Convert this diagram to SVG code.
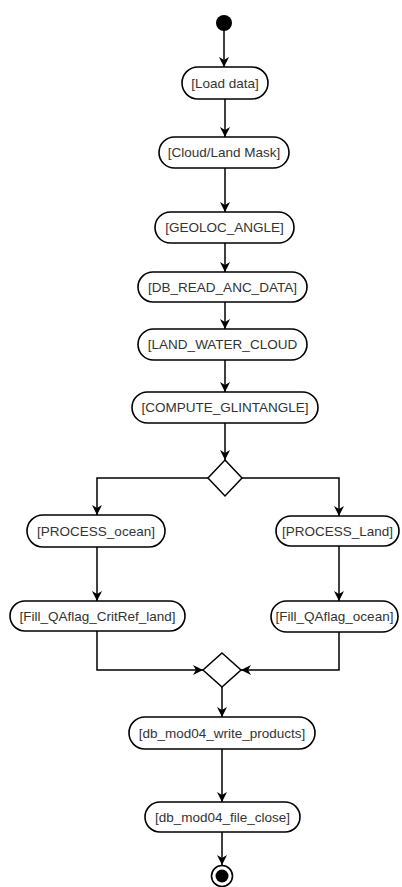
<svg xmlns="http://www.w3.org/2000/svg" width="402" height="887" viewBox="0 0 402 887">
<style>
.act{fill:#fff;stroke:#000;stroke-width:1.6}
.lbl{font-family:"Liberation Sans",Arial,sans-serif;font-size:13.5px;fill:#333;text-anchor:middle;dominant-baseline:central}
.con{fill:none;stroke:#000;stroke-width:1.5}
.dec{fill:#fff;stroke:#000;stroke-width:1.5}
</style>
<defs>
<marker id="arr" viewBox="0 0 10 10" refX="10" refY="5" markerWidth="10" markerHeight="10" markerUnits="userSpaceOnUse" orient="auto">
<path d="M0,0 L10,5 L0,10 L3,5 Z" fill="#000"/>
</marker>
</defs>
<rect width="402" height="887" fill="#fff"/>
<g id="connectors">
<path class="con" d="M224,31 V67" marker-end="url(#arr)"/>
<path class="con" d="M225,99 V137" marker-end="url(#arr)"/>
<path class="con" d="M225,168 V212" marker-end="url(#arr)"/>
<path class="con" d="M225,243 V272" marker-end="url(#arr)"/>
<path class="con" d="M225,302 V329" marker-end="url(#arr)"/>
<path class="con" d="M225,360 V392" marker-end="url(#arr)"/>
<path class="con" d="M225,423 V460" marker-end="url(#arr)"/>
<path class="con" d="M208,478 H97 V515" marker-end="url(#arr)"/>
<path class="con" d="M242,478 H339 V516" marker-end="url(#arr)"/>
<path class="con" d="M97,547 V601" marker-end="url(#arr)"/>
<path class="con" d="M339,546 V601" marker-end="url(#arr)"/>
<path class="con" d="M97,631 V670 H203" marker-end="url(#arr)"/>
<path class="con" d="M339,632 V670 H241" marker-end="url(#arr)"/>
<path class="con" d="M222,687 V717" marker-end="url(#arr)"/>
<path class="con" d="M222,749 V802" marker-end="url(#arr)"/>
<path class="con" d="M222,832 V865" marker-end="url(#arr)"/>
</g>
<g id="start"><circle cx="224" cy="23" r="8" fill="#000"/></g>
<g id="load"><rect class="act" x="182" y="67" width="86" height="32" rx="16"/><text class="lbl" x="225" y="83">[Load data]</text></g>
<g id="cloud"><rect class="act" x="159" y="137" width="130" height="31" rx="15.5"/><text class="lbl" x="224" y="152.5">[Cloud/Land Mask]</text></g>
<g id="geoloc"><rect class="act" x="155" y="212" width="139" height="31" rx="15.5"/><text class="lbl" x="224.5" y="227.5">[GEOLOC_ANGLE]</text></g>
<g id="dbread"><rect class="act" x="138" y="272" width="169" height="30" rx="15"/><text class="lbl" x="222.5" y="287">[DB_READ_ANC_DATA]</text></g>
<g id="landwater"><rect class="act" x="138" y="329" width="169" height="31" rx="15.5"/><text class="lbl" x="222.5" y="344.5">[LAND_WATER_CLOUD</text></g>
<g id="compute"><rect class="act" x="132" y="392" width="186" height="31" rx="15.5"/><text class="lbl" x="225" y="407.5">[COMPUTE_GLINTANGLE]</text></g>
<g id="decision"><polygon class="dec" points="225,460 242,478 225,496 208,478"/></g>
<g id="process_ocean"><rect class="act" x="27" y="515" width="138" height="32" rx="16"/><text class="lbl" x="96" y="531">[PROCESS_ocean]</text></g>
<g id="process_land"><rect class="act" x="276" y="516" width="123" height="30" rx="15"/><text class="lbl" x="337.5" y="531">[PROCESS_Land]</text></g>
<g id="fill_crit"><rect class="act" x="10" y="601" width="175" height="30" rx="15"/><text class="lbl" x="97.5" y="616">[Fill_QAflag_CritRef_land]</text></g>
<g id="fill_ocean"><rect class="act" x="271" y="601" width="127" height="31" rx="15.5"/><text class="lbl" x="334.5" y="616.5">[Fill_QAflag_ocean]</text></g>
<g id="merge"><polygon class="dec" points="222,653 241,670 222,687 203,670"/></g>
<g id="write"><rect class="act" x="129" y="717" width="186" height="32" rx="16"/><text class="lbl" x="222" y="733">[db_mod04_write_products]</text></g>
<g id="close"><rect class="act" x="145" y="802" width="155" height="30" rx="15"/><text class="lbl" x="222.5" y="817">[db_mod04_file_close]</text></g>
<g id="end"><circle cx="222" cy="876" r="10.5" fill="#fff" stroke="#000" stroke-width="1.6"/><circle cx="222" cy="876" r="6.5" fill="#000"/></g>
</svg>
